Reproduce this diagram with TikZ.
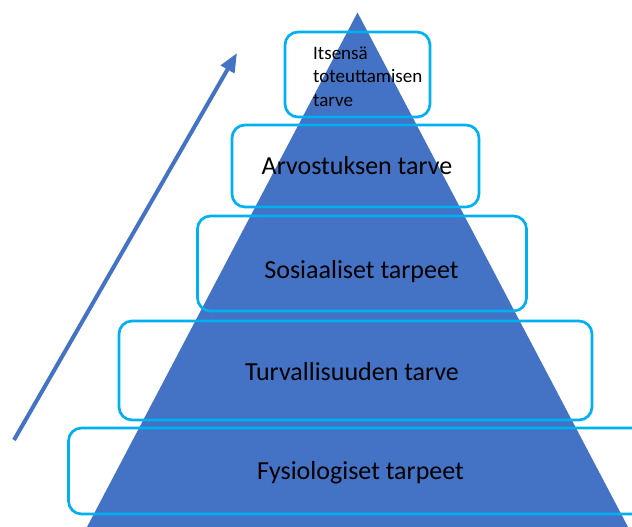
\documentclass[tikz,border=0pt]{standalone}
\usepackage{fontspec}
\setmainfont{Carlito}
\usetikzlibrary{arrows.meta}
\definecolor{pyramidblue}{HTML}{4472C4}
\definecolor{levelcyan}{HTML}{00B0F0}

\begin{document}
\begin{tikzpicture}[x=1pt, y=-1pt,
  level/.style={draw=levelcyan, line width=2.7pt, rounded corners=13pt, inner sep=0pt},
  lbl/.style={font=\fontsize{26}{30}\selectfont, anchor=base, inner sep=0pt}]
  \clip (0,0) rectangle (632,527);
  \fill[pyramidblue] (357.5,12.5) -- (628,527) -- (87,527) -- cycle;
  \coordinate (low) at (14,440);
  \coordinate (high) at (237,53);
  \draw[pyramidblue, line width=4pt, -{Triangle[length=19pt, width=15pt]}] (low) -- (high);

  \node[level, minimum width=145pt, minimum height=85pt] (itse) at (357.5,74.5) {};
  \node[level, minimum width=247pt, minimum height=82pt] (arvo) at (355.5,166) {};
  \node[level, minimum width=329pt, minimum height=95pt] (sos) at (362,263.5) {};
  \node[level, minimum width=473pt, minimum height=99pt] (turva) at (355.5,370.5) {};
  \node[level, minimum width=640pt, minimum height=86pt] (fysio) at (388.5,471) {};

  \node[font=\fontsize{19}{23.5}\selectfont, align=left, anchor=north west, inner sep=0pt]
    (itseT) at (313,46.5) {Itsensä\\toteuttamisen\\tarve};
  \node[lbl] (arvoT) at (357,174) {Arvostuksen tarve};
  \node[lbl] (sosT) at (361.5,278) {Sosiaaliset tarpeet};
  \node[lbl] (turvaT) at (352,380) {Turvallisuuden tarve};
  \node[lbl] (fysioT) at (360.5,479) {Fysiologiset tarpeet};
\end{tikzpicture}
\end{document}
